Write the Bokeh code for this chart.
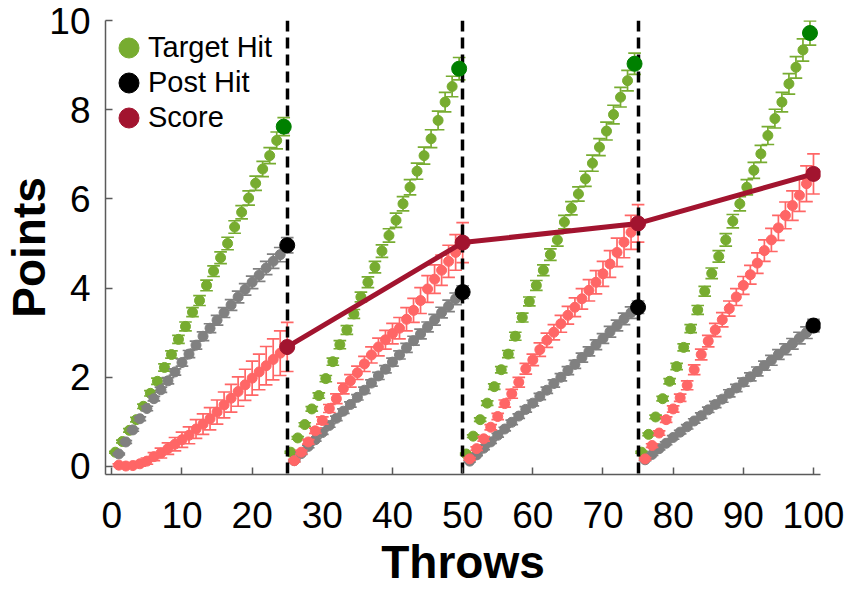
import numpy as np
from bokeh.plotting import figure
from bokeh.models import Range1d, FixedTicker, Legend, LegendItem
from bokeh.embed import file_html
from bokeh.resources import INLINE

# ---------------- data ----------------
throws = list(range(1, 101))
block_ends = [25, 50, 75, 100]
dividers = [25, 50, 75]
x_ticks = [0, 10, 20, 30, 40, 50, 60, 70, 80, 90, 100]
y_ticks = [0, 2, 4, 6, 8, 10]

target_hit = [
    0.32, 0.56, 0.81, 1.05, 1.35, 1.64, 1.91, 2.22, 2.51, 2.85, 3.14, 3.46, 3.72,
    4.06, 4.38, 4.68, 5.00, 5.37, 5.70, 6.02, 6.35, 6.67, 6.97, 7.31, 7.62,
    0.32, 0.64, 0.94, 1.29, 1.59, 1.97, 2.35, 2.73, 3.06, 3.42, 3.80, 4.13, 4.47,
    4.83, 5.18, 5.52, 5.89, 6.26, 6.62, 6.97, 7.35, 7.76, 8.17, 8.52, 8.92,
    0.28, 0.68, 1.05, 1.42, 1.79, 2.17, 2.52, 2.92, 3.34, 3.70, 4.06, 4.40, 4.75,
    5.08, 5.48, 5.79, 6.11, 6.45, 6.80, 7.16, 7.52, 7.89, 8.28, 8.65, 9.03,
    0.32, 0.72, 1.11, 1.52, 1.91, 2.24, 2.67, 3.09, 3.51, 3.93, 4.33, 4.71, 5.08,
    5.50, 5.89, 6.26, 6.64, 7.01, 7.42, 7.80, 8.17, 8.58, 8.95, 9.34, 9.72,
]
target_err = [
    0.02, 0.03, 0.04, 0.05, 0.05, 0.06, 0.07, 0.08, 0.08, 0.09, 0.10, 0.10, 0.11,
    0.12, 0.12, 0.13, 0.14, 0.14, 0.15, 0.16, 0.16, 0.17, 0.18, 0.19, 0.20,
    0.02, 0.03, 0.04, 0.05, 0.06, 0.07, 0.08, 0.09, 0.10, 0.10, 0.11, 0.12, 0.13,
    0.14, 0.15, 0.16, 0.16, 0.17, 0.18, 0.19, 0.20, 0.21, 0.22, 0.23, 0.25,
    0.02, 0.03, 0.04, 0.05, 0.06, 0.07, 0.08, 0.09, 0.10, 0.10, 0.11, 0.12, 0.13,
    0.14, 0.15, 0.15, 0.16, 0.17, 0.18, 0.19, 0.20, 0.21, 0.22, 0.23, 0.24,
    0.02, 0.03, 0.04, 0.05, 0.06, 0.07, 0.08, 0.09, 0.10, 0.11, 0.12, 0.13, 0.14,
    0.15, 0.16, 0.17, 0.18, 0.19, 0.20, 0.21, 0.22, 0.23, 0.24, 0.25, 0.27,
]
post_hit = [
    0.28, 0.55, 0.82, 1.07, 1.30, 1.52, 1.72, 1.92, 2.12, 2.33, 2.52, 2.72, 2.92,
    3.10, 3.28, 3.45, 3.62, 3.80, 3.97, 4.13, 4.29, 4.45, 4.60, 4.75, 4.96,
    0.13, 0.29, 0.45, 0.60, 0.76, 0.92, 1.08, 1.24, 1.39, 1.55, 1.71, 1.87, 2.03,
    2.18, 2.34, 2.50, 2.66, 2.82, 2.97, 3.13, 3.29, 3.45, 3.60, 3.76, 3.91,
    0.12, 0.26, 0.41, 0.55, 0.70, 0.84, 0.99, 1.13, 1.28, 1.42, 1.57, 1.71, 1.86,
    2.00, 2.15, 2.29, 2.44, 2.58, 2.73, 2.87, 3.02, 3.16, 3.31, 3.45, 3.57,
    0.15, 0.27, 0.40, 0.52, 0.65, 0.77, 0.89, 1.02, 1.14, 1.27, 1.39, 1.51, 1.64,
    1.76, 1.89, 2.01, 2.13, 2.26, 2.38, 2.51, 2.63, 2.75, 2.88, 3.00, 3.16,
]
post_err = [
    0.02, 0.03, 0.03, 0.04, 0.05, 0.05, 0.06, 0.07, 0.07, 0.08, 0.08, 0.09, 0.10,
    0.10, 0.11, 0.11, 0.12, 0.13, 0.13, 0.14, 0.14, 0.15, 0.16, 0.16, 0.17,
    0.02, 0.02, 0.03, 0.03, 0.04, 0.04, 0.05, 0.05, 0.06, 0.06, 0.07, 0.07, 0.08,
    0.08, 0.09, 0.09, 0.10, 0.10, 0.11, 0.11, 0.12, 0.12, 0.13, 0.13, 0.14,
    0.02, 0.02, 0.03, 0.03, 0.04, 0.04, 0.05, 0.05, 0.06, 0.06, 0.07, 0.07, 0.08,
    0.08, 0.09, 0.09, 0.10, 0.10, 0.11, 0.11, 0.12, 0.12, 0.13, 0.13, 0.14,
    0.02, 0.02, 0.03, 0.03, 0.04, 0.04, 0.05, 0.05, 0.06, 0.06, 0.07, 0.07, 0.08,
    0.08, 0.09, 0.09, 0.10, 0.10, 0.11, 0.11, 0.12, 0.12, 0.13, 0.13, 0.14,
]
score = [
    0.03, 0.01, 0.02, 0.06, 0.12, 0.22, 0.30, 0.40, 0.50, 0.60, 0.70, 0.84, 0.95,
    1.07, 1.22, 1.38, 1.53, 1.68, 1.83, 1.98, 2.12, 2.26, 2.40, 2.54, 2.68,
    0.13, 0.32, 0.55, 0.80, 1.03, 1.30, 1.52, 1.75, 1.92, 2.10, 2.30, 2.50, 2.68,
    2.84, 2.98, 3.10, 3.30, 3.50, 3.72, 3.98, 4.20, 4.40, 4.60, 4.80, 5.02,
    0.17, 0.40, 0.62, 0.88, 1.12, 1.41, 1.63, 1.89, 2.19, 2.39, 2.62, 2.83, 3.01,
    3.20, 3.39, 3.57, 3.76, 3.95, 4.13, 4.32, 4.54, 4.80, 5.03, 5.25, 5.45,
    0.17, 0.47, 0.75, 1.05, 1.29, 1.54, 1.82, 2.17, 2.51, 2.81, 3.06, 3.29, 3.54,
    3.80, 4.06, 4.30, 4.56, 4.84, 5.08, 5.35, 5.63, 5.85, 6.08, 6.34, 6.56,
]
score_err = [
    0.03, 0.03, 0.04, 0.05, 0.07, 0.09, 0.11, 0.13, 0.15, 0.17, 0.19, 0.21, 0.23,
    0.25, 0.27, 0.29, 0.31, 0.33, 0.35, 0.38, 0.40, 0.43, 0.46, 0.50, 0.55,
    0.03, 0.04, 0.05, 0.06, 0.08, 0.09, 0.11, 0.12, 0.14, 0.15, 0.17, 0.18, 0.20,
    0.21, 0.23, 0.24, 0.26, 0.27, 0.29, 0.30, 0.32, 0.34, 0.36, 0.40, 0.45,
    0.03, 0.04, 0.05, 0.06, 0.07, 0.08, 0.10, 0.11, 0.12, 0.13, 0.15, 0.16, 0.17,
    0.19, 0.20, 0.21, 0.23, 0.24, 0.26, 0.28, 0.30, 0.32, 0.35, 0.38, 0.42,
    0.03, 0.04, 0.05, 0.06, 0.07, 0.08, 0.10, 0.11, 0.12, 0.13, 0.15, 0.16, 0.17,
    0.19, 0.20, 0.21, 0.23, 0.24, 0.26, 0.28, 0.30, 0.33, 0.36, 0.40, 0.45,
]

# ---------------- styles ----------------
GREEN = "#77AC30"
DARK_GREEN = "#008000"
GRAY = "#808080"
LIGHT_RED = "#FF6666"
DARK_RED = "#A2142F"
AXIS_COLOR = "#5a5a5a"
FONT = "Liberation Sans"
GREEN_SHIFT = -0.5   # target-hit markers drawn half a throw to the left
CAP = 0.9            # half width of error-bar caps (data units)
SMALL = 10
BIG = 15

p = figure(width=850, height=591, output_backend="svg", toolbar_location=None,
           x_range=Range1d(-0.9, 101), y_range=Range1d(-0.18, 10),
           min_border_left=104, min_border_right=30, min_border_top=20,
           min_border_bottom=117)
p.outline_line_color = None
p.xgrid.visible = False
p.ygrid.visible = False
p.background_fill_color = "white"
p.border_fill_color = "white"

t = np.array(throws, dtype=float)
idx_end = [throws.index(b) for b in block_ends]


def errorbars(x, y, e, color, lw=1.7):
    x = np.asarray(x, float); y = np.asarray(y, float); e = np.asarray(e, float)
    p.segment(x, y - e, x, y + e, line_color=color, line_width=lw)
    p.segment(x - CAP, y + e, x + CAP, y + e, line_color=color, line_width=lw)
    p.segment(x - CAP, y - e, x + CAP, y - e, line_color=color, line_width=lw)


# target hit
xg = t + GREEN_SHIFT
errorbars(xg, target_hit, target_err, GREEN)
r_green = p.ellipse(xg, target_hit, width=SMALL, height=SMALL, width_units="screen",
                    height_units="screen", fill_color=GREEN, line_color=GREEN)
# post hit
errorbars(t, post_hit, post_err, GRAY)
p.ellipse(t, post_hit, width=SMALL, height=SMALL, width_units="screen",
          height_units="screen", fill_color=GRAY, line_color=GRAY)
# score
errorbars(t, score, score_err, LIGHT_RED)
p.ellipse(t, score, width=SMALL, height=SMALL, width_units="screen",
          height_units="screen", fill_color=LIGHT_RED, line_color=LIGHT_RED)

# block dividers
p.vspan(x=dividers, line_color="black", line_width=3.5, line_dash="11 6")

# block-end summaries
xe = [t[i] for i in idx_end]
p.line(xe, [score[i] for i in idx_end], line_color=DARK_RED, line_width=5)
p.ellipse([xg[i] for i in idx_end], [target_hit[i] for i in idx_end], width=BIG, height=BIG,
          width_units="screen", height_units="screen", fill_color=DARK_GREEN, line_color=DARK_GREEN)
r_black = p.ellipse(xe, [post_hit[i] for i in idx_end], width=BIG, height=BIG,
                    width_units="screen", height_units="screen", fill_color="black", line_color="black")
r_red = p.ellipse(xe, [score[i] for i in idx_end], width=BIG, height=BIG,
                  width_units="screen", height_units="screen", fill_color=DARK_RED, line_color=DARK_RED)

# axes
for ax, ticks in ((p.xaxis, x_ticks), (p.yaxis, y_ticks)):
    ax.ticker = FixedTicker(ticks=ticks)
    ax.major_tick_in = 7
    ax.major_tick_out = 0
    ax.minor_tick_line_color = None
    ax.axis_line_color = AXIS_COLOR
    ax.axis_line_width = 1.5
    ax.major_tick_line_color = AXIS_COLOR
    ax.major_tick_line_width = 1.5
    ax.major_label_text_font = FONT
    ax.major_label_text_font_size = "37px"
    ax.major_label_text_color = "black"
    ax.axis_label_text_font = FONT
    ax.axis_label_text_font_size = "46px"
    ax.axis_label_text_font_style = "bold"
    ax.axis_label_text_color = "black"
p.xaxis.major_label_standoff = 27
p.yaxis.major_label_standoff = 15
p.xaxis.axis_label = "Throws"
p.yaxis.axis_label = "Points"
p.xaxis.axis_label_standoff = 5
p.yaxis.axis_label_standoff = -9

legend = Legend(items=[LegendItem(label="Target Hit", renderers=[r_green]),
                       LegendItem(label="Post Hit", renderers=[r_black]),
                       LegendItem(label="Score", renderers=[r_red])],
                location="top_left", border_line_alpha=0, background_fill_alpha=0,
                glyph_width=25, glyph_height=25, label_text_font=FONT,
                label_text_font_size="29px", label_text_color="black",
                label_standoff=7, spacing=2, padding=7, margin=4, label_height=33)
p.add_layout(legend)

open("out.html", "w").write(file_html(p, INLINE))
